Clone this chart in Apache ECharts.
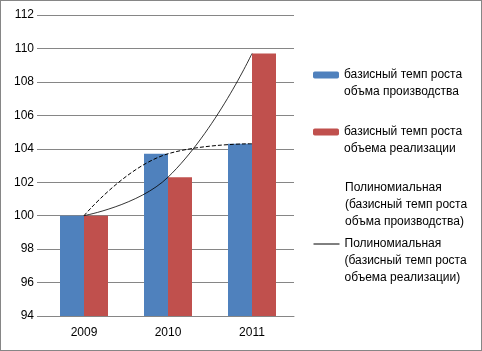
<!DOCTYPE html>
<html>
<head>
<meta charset="utf-8">
<script src="https://cdn.jsdelivr.net/npm/echarts@6/dist/echarts.min.js"></script>
<style>
  html, body { margin: 0; padding: 0; background: #fff; }
  #main { width: 482px; height: 351px; box-sizing: border-box; border: 1px solid #868686; }
</style>
</head>
<body>
<div id="main"></div>
<script>
var years = ['2009', '2010', '2011'];
var production = [100, 103.7, 104.3];
var sales = [100, 102.3, 109.7];
var yTicks = { min: 94, max: 112, step: 2 };

var nameProd = 'базисный темп роста\nобъма производства';
var nameSales = 'базисный темп роста\nобъема реализации';
var nameTrendProd = 'Полиномиальная\n(базисный темп роста\nобъма производства)';
var nameTrendSales = 'Полиномиальная\n(базисный темп роста\nобъема реализации)';

var font = 'Liberation Sans';
var lh = 17;

// legend entry whose icon sits on the first text line (y = centre of that line);
// blank lines are prepended so the first real line is the middle of the text block
function legendAt(name, y, lines, extra) {
    var d = { name: name };
    if (extra) Object.assign(d, extra);
    var boxH = (2 * lines - 1) * lh;
    return {
        orient: 'vertical',
        left: 312,
        top: y - boxH / 2,
        padding: 0,
        itemWidth: 26,
        itemHeight: 7,
        data: [d],
        formatter: function (n) { return new Array(lines).join('\n') + n; },
        textStyle: {
            fontFamily: font,
            fontSize: 12,
            color: '#000',
            lineHeight: lh
        }
    };
}

var myChart = echarts.init(document.getElementById('main'));
myChart.setOption({
    animation: false,
    backgroundColor: '#fff',
    grid: { left: 41, top: 14, width: 252, height: 301 },
    legend: [
        legendAt(nameProd, 74, 2),
        legendAt(nameSales, 131, 2),
        legendAt(nameTrendProd, 187, 3, { lineStyle: { opacity: 0 }, itemStyle: { opacity: 0 } }),
        legendAt(nameTrendSales, 243, 3, { lineStyle: { width: 1, type: 'solid' }, itemStyle: { opacity: 0 } })
    ],
    xAxis: {
        type: 'category',
        data: years,
        axisLine: { lineStyle: { color: '#868686' } },
        axisTick: {
            length: 5,
            lineStyle: { color: '#868686' },
            interval: function (i) { return i % 2 === 1; }
        },
        axisLabel: { fontFamily: font, fontSize: 12, color: '#000', margin: 11 }
    },
    yAxis: {
        type: 'value',
        min: yTicks.min,
        max: yTicks.max,
        interval: yTicks.step,
        axisLine: { show: false },
        axisTick: { show: true, length: 5, lineStyle: { color: '#868686' } },
        axisLabel: { fontFamily: font, fontSize: 12, color: '#000', margin: 8 },
        splitLine: { lineStyle: { color: '#868686' } }
    },
    series: [
        {
            name: nameProd,
            type: 'bar',
            data: production,
            barWidth: 24,
            barGap: '0%',
            itemStyle: { color: '#4F81BD' }
        },
        {
            name: nameSales,
            type: 'bar',
            data: sales,
            barWidth: 24,
            itemStyle: { color: '#C0504D' }
        },
        {
            name: nameTrendProd,
            type: 'line',
            data: production,
            smooth: 0.45,
            symbol: 'none',
            z: 5,
            lineStyle: { color: '#000', width: 1, type: [4, 2] }
        },
        {
            name: nameTrendSales,
            type: 'line',
            data: sales,
            smooth: 0.45,
            symbol: 'none',
            z: 5,
            lineStyle: { color: '#000', width: 0.8 }
        }
    ]
});
</script>
</body>
</html>
